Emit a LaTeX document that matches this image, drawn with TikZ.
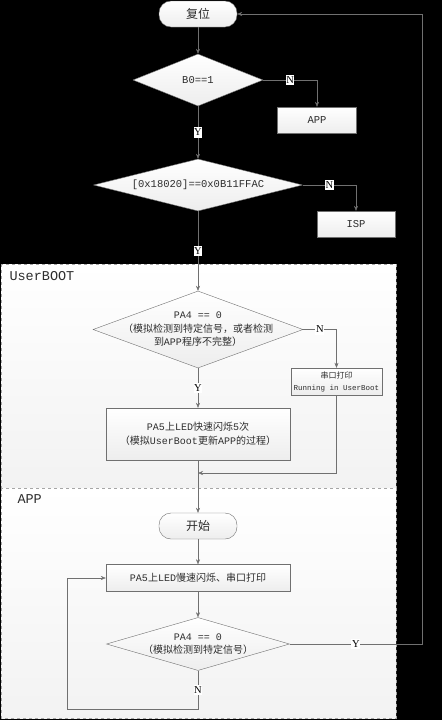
\documentclass[tikz,border=0pt]{standalone}
\usepackage{fontspec}
\setmainfont{Liberation Mono}
\newfontfamily\cjk{Noto Sans CJK SC}
\newfontfamily\lblfont{Liberation Serif}
\newcommand{\zh}[1]{{\cjk #1}}
\usetikzlibrary{shapes.geometric, arrows.meta}
\definecolor{linecol}{RGB}{112,112,112}
\definecolor{textcol}{RGB}{45,45,45}

\begin{document}
\begin{tikzpicture}[x=1pt, y=-1pt, >={Stealth[length=5pt, width=4pt]},
    base/.style={draw=linecol, text=textcol, top color=white, bottom color=gray!14,
        inner sep=0pt, font=\fontsize{10.5}{13.5}\selectfont},
    term/.style={base, rectangle, rounded corners=12pt, minimum width=78pt,
        minimum height=26pt, font=\cjk\fontsize{12}{14}\selectfont},
    proc/.style={base, rectangle, align=center},
    decision/.style={base, diamond, aspect=4},
    lbl/.style={fill=white, text=black, inner xsep=0.6pt, inner ysep=1.6pt,
        font=\lblfont\fontsize{10.5}{10.5}\selectfont},
    area/.style={draw=gray!70, dashed, top color=white, bottom color=gray!10},
    line/.style={draw=linecol, ->}]

    % background and the two regions
    \fill[black] (0,0) rectangle (442,720);
    \path[area] (1,264) rectangle (396,488);
    \path[area] (1,488) rectangle (396,718);
    \node[anchor=west, text=textcol, font=\fontsize{13.5}{14}\selectfont] (ubtitle) at (6,276) {UserBOOT};
    \node[anchor=west, text=textcol, font=\fontsize{13.5}{14}\selectfont] (apptitle) at (14,499) {APP};

    \node[term] (reset) at (198,14) {复位};
    \node[decision, minimum width=130pt, minimum height=52pt] (b0) at (198,80) {B0==1};
    \node[proc, minimum width=79pt, minimum height=26pt] (app) at (317,120) {APP};
    \node[decision, minimum width=209pt, minimum height=52pt] (flag) at (198,185) {{[}0x18020]==0x0B11FFAC};
    \node[proc, minimum width=78pt, minimum height=26pt] (isp) at (356,224) {ISP};

    \node[decision, minimum width=210pt, minimum height=77pt,
        label={[align=center, text=textcol, font=\fontsize{10}{13.5}\selectfont]center:{PA4 == 0\\\zh{（模拟检测到特定信号，或者检测}\\\zh{到}APP\zh{程序不完整）}}}] (pa4) at (198,329.5) {};
    \node[proc, minimum width=91pt, minimum height=27pt, font=\fontsize{7.5}{12}\selectfont] (uart) at (336.5,381.5)
        {\zh{\fontsize{8}{12}\selectfont 串口打印}\\Running in UserBoot};
    \node[proc, minimum width=184pt, minimum height=52pt, font=\fontsize{10}{14}\selectfont] (flash) at (198,434)
        {PA5\zh{上}LED\zh{快速闪烁}5\zh{次}\\\zh{（模拟}UserBoot\zh{更新}APP\zh{的过程）}};
    \coordinate (join) at (198,473);

    \node[term] (start) at (198,526) {开始};
    \node[proc, minimum width=184pt, minimum height=27pt, font=\fontsize{10}{14}\selectfont] (blink) at (198,578)
        {PA5\zh{上}LED\zh{慢速闪烁、串口打印}};
    \node[decision, minimum width=183pt, minimum height=53pt,
        label={[align=center, text=textcol, font=\fontsize{10}{13.5}\selectfont]center:{PA4 == 0\\\zh{（模拟检测到特定信号）}}}] (pa4b) at (198,644) {};
    \coordinate (back) at (422,644);
    \coordinate (nb) at (198,709);
    \coordinate (nl) at (67,709);

    \draw[line] (reset) -- (b0);
    \draw[line] (b0) -| node[lbl, pos=0.25] {N} (app);
    \draw[line] (b0) -- node[lbl] {Y} (flag);
    \draw[line] (flag) -| node[lbl, pos=0.25] {N} (isp);
    \draw[line] (flag) -- node[lbl] {Y} (pa4);
    \draw[line] (pa4) -| node[lbl, pos=0.25] {N} (uart);
    \draw[line] (pa4) -- node[lbl] {Y} (flash);
    \draw[line] (uart) |- (join);
    \draw[line] (flash) -- (start);
    \draw[line] (start) -- (blink);
    \draw[line] (blink) -- (pa4b);
    \draw[line] (pa4b) -- node[lbl] {Y} (back) |- (reset);
    \draw[line] (pa4b) -- node[lbl] {N} (nb) -- (nl) |- (blink);
\end{tikzpicture}
\end{document}
